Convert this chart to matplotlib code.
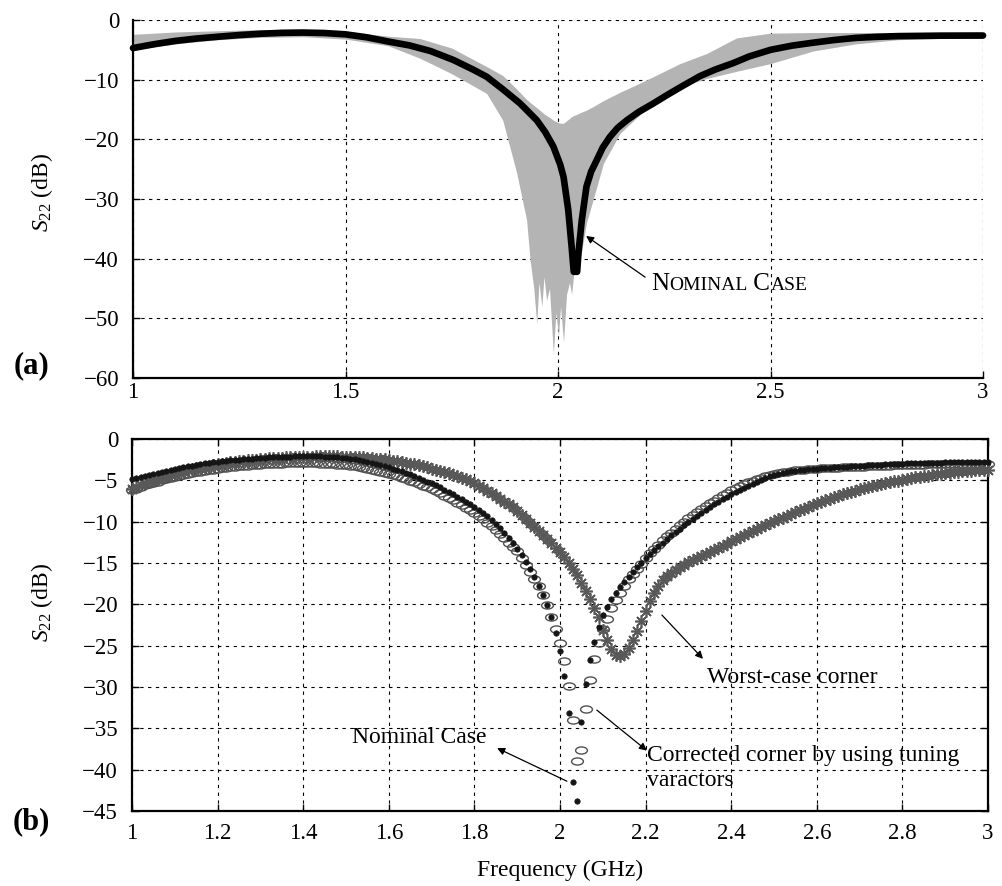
import numpy as np
import matplotlib
matplotlib.use("Agg")
import matplotlib.pyplot as plt
from matplotlib.path import Path
from matplotlib.transforms import Affine2D
from matplotlib.offsetbox import TextArea, HPacker, AnnotationBbox

plt.rcParams["font.family"] = "serif"
plt.rcParams["font.serif"] = ["Liberation Serif", "DejaVu Serif"]
plt.rcParams["mathtext.fontset"] = "custom"
plt.rcParams["mathtext.rm"] = "Liberation Serif"
plt.rcParams["mathtext.it"] = "Liberation Serif:italic"
plt.rcParams["axes.unicode_minus"] = True

# ---------------- (a) Monte Carlo spread + nominal ----------------
f_band = [1.00, 1.10, 1.20, 1.30, 1.40, 1.50, 1.60, 1.675, 1.75, 1.832, 1.87, 1.903,
          1.926, 1.934, 1.943, 1.950, 1.955, 1.962, 1.967, 1.973, 1.980, 1.989, 1.995,
          2.001, 2.006, 2.013, 2.020, 2.027, 2.032, 2.037, 2.045, 2.050, 2.067, 2.083,
          2.107, 2.146, 2.186, 2.224, 2.287, 2.350, 2.420, 2.500, 2.600, 2.700, 2.800,
          2.900, 3.000]
band_upper = [-2.4, -2.0, -1.8, -1.6, -1.6, -1.9, -2.7, -3.1, -4.7, -7.8, -9.3, -11.6,
              -13.3, -13.8, -14.3, -14.7, -15.0, -15.4, -15.7, -16.0, -16.3, -16.8, -17.0,
              -17.2, -17.3, -17.3, -16.9, -16.5, -16.2, -16.0, -15.8, -15.6, -15.1, -14.5,
              -13.5, -12.1, -10.8, -9.5, -7.3, -5.6, -3.0, -2.2, -2.1, -2.1, -2.1,
              -2.1, -2.3]
band_lower = [-5.0, -4.0, -3.3, -2.9, -2.8, -3.2, -4.3, -6.4, -9.0, -12.3, -16.8, -25.7,
              -33.5, -40.0, -45.0, -51.0, -44.0, -48.0, -43.0, -47.0, -45.0, -56.0, -49.0,
              -53.0, -48.0, -54.0, -46.0, -44.0, -46.0, -42.5, -42.3, -41.0, -34.0, -30.0,
              -24.0, -19.0, -16.3, -14.0, -11.2, -9.8, -8.6, -7.3, -5.2, -4.0, -3.3,
              -3.1, -3.1]

f_nom_a = [1.0, 1.05, 1.1, 1.15, 1.2, 1.25, 1.3, 1.35, 1.4, 1.45, 1.5, 1.55, 1.6, 1.65,
           1.7, 1.754, 1.8, 1.832, 1.87, 1.911, 1.95, 1.97, 1.989, 2.005, 2.013, 2.024,
           2.032, 2.037, 2.045, 2.048, 2.056, 2.067, 2.078, 2.091, 2.105, 2.122, 2.14,
           2.162, 2.19, 2.224, 2.256, 2.287, 2.334, 2.37, 2.413, 2.45, 2.5, 2.55, 2.6,
           2.65, 2.7, 2.75, 2.8, 2.9, 3.0]
s_nom_a = [-4.7, -4.05, -3.5, -3.1, -2.8, -2.52, -2.3, -2.15, -2.1, -2.18, -2.4, -2.9,
           -3.6, -4.25, -5.2, -6.7, -8.3, -9.5, -11.6, -14.0, -16.8, -18.8, -21.2, -24.2,
           -26.3, -31.8, -38.0, -42.2, -42.2, -39.1, -33.5, -27.9, -25.4, -23.5, -21.4,
           -19.6, -18.1, -16.8, -15.4, -14.0, -12.6, -11.3, -9.4, -8.3, -7.2, -6.1, -5.0,
           -4.3, -3.8, -3.35, -3.0, -2.82, -2.7, -2.62, -2.6]

# ---------------- (b) sampled every 10 MHz ----------------
f_b = np.round(np.linspace(1.0, 3.0, 201), 2)

s_nominal = [
    -4.90, -4.75, -4.60, -4.46, -4.33, -4.20, -4.08, -3.96, -3.84, -3.72,
    -3.60, -3.50, -3.40, -3.31, -3.22, -3.13, -3.05, -2.97, -2.89, -2.82,
    -2.75, -2.70, -2.65, -2.60, -2.55, -2.50, -2.46, -2.42, -2.38, -2.34,
    -2.30, -2.27, -2.24, -2.21, -2.19, -2.17, -2.15, -2.13, -2.12, -2.11,
    -2.10, -2.10, -2.10, -2.11, -2.12, -2.14, -2.16, -2.19, -2.22, -2.26,
    -2.30, -2.37, -2.45, -2.54, -2.64, -2.75, -2.87, -3.00, -3.14, -3.29,
    -3.45, -3.60, -3.76, -3.93, -4.11, -4.30, -4.50, -4.71, -4.93, -5.15,
    -5.38, -5.62, -5.87, -6.13, -6.40, -6.68, -6.97, -7.27, -7.58, -7.89,
    -8.20, -8.55, -8.95, -9.35, -9.80, -10.30, -10.80, -11.35, -11.95, -12.60,
    -13.30, -14.10, -14.90, -15.70, -16.70, -17.80, -18.90, -20.10, -21.60, -23.50,
    -25.70, -28.70, -33.10, -41.50, -43.80, -34.20, -29.70, -26.70, -24.60, -22.70,
    -21.30, -20.30, -19.40, -18.60, -17.90, -17.25, -16.65, -16.05, -15.50, -14.95,
    -14.45, -13.95, -13.47, -13.00, -12.55, -12.10, -11.67, -11.25, -10.84, -10.44,
    -10.05, -9.67, -9.30, -8.94, -8.59, -8.25, -7.92, -7.60, -7.29, -6.99,
    -6.70, -6.42, -6.15, -5.89, -5.64, -5.40, -5.17, -4.95, -4.74, -4.54,
    -4.38, -4.25, -4.13, -4.02, -3.93, -3.85, -3.78, -3.72, -3.67, -3.62,
    -3.58, -3.54, -3.50, -3.47, -3.44, -3.41, -3.38, -3.35, -3.33, -3.31,
    -3.28, -3.24, -3.21, -3.18, -3.15, -3.12, -3.09, -3.06, -3.03, -3.00,
    -2.98, -2.96, -2.94, -2.92, -2.91, -2.90, -2.89, -2.88, -2.87, -2.86,
    -2.85, -2.84, -2.83, -2.83, -2.82, -2.82, -2.81, -2.81, -2.80, -2.80,
    -2.80]

s_corrected = [
    -6.20, -6.00, -5.81, -5.63, -5.46, -5.30, -5.15, -5.00, -4.86, -4.73,
    -4.60, -4.48, -4.37, -4.26, -4.16, -4.06, -3.97, -3.88, -3.80, -3.72,
    -3.64, -3.57, -3.50, -3.44, -3.38, -3.33, -3.28, -3.23, -3.19, -3.15,
    -3.11, -3.08, -3.05, -3.03, -3.01, -2.99, -2.97, -2.96, -2.95, -2.95,
    -2.95, -2.95, -2.96, -2.97, -2.99, -3.01, -3.04, -3.07, -3.11, -3.15,
    -3.20, -3.26, -3.33, -3.41, -3.50, -3.60, -3.71, -3.83, -3.96, -4.10,
    -4.25, -4.39, -4.54, -4.70, -4.87, -5.05, -5.24, -5.44, -5.65, -5.87,
    -6.10, -6.34, -6.59, -6.85, -7.12, -7.40, -7.69, -7.99, -8.30, -8.62,
    -8.95, -9.32, -9.72, -10.14, -10.58, -11.04, -11.52, -12.02, -12.54, -13.07,
    -13.60, -14.35, -15.20, -16.10, -16.90, -17.80, -18.90, -20.10, -21.50, -23.00,
    -24.70, -26.90, -29.90, -34.00, -39.00, -37.60, -32.70, -29.10, -26.60, -24.70,
    -23.00, -21.80, -20.50, -19.50, -18.60, -17.80, -17.00, -16.30, -15.70, -15.10,
    -14.40, -13.85, -13.30, -12.78, -12.28, -11.78, -11.32, -10.88, -10.45, -10.02,
    -9.62, -9.25, -8.88, -8.52, -8.16, -7.80, -7.45, -7.12, -6.80, -6.50,
    -6.22, -5.95, -5.70, -5.46, -5.24, -5.03, -4.84, -4.67, -4.52, -4.38,
    -4.26, -4.15, -4.05, -3.96, -3.88, -3.81, -3.75, -3.70, -3.65, -3.61,
    -3.58, -3.55, -3.52, -3.50, -3.48, -3.46, -3.44, -3.42, -3.40, -3.39,
    -3.37, -3.35, -3.33, -3.31, -3.29, -3.27, -3.25, -3.23, -3.21, -3.19,
    -3.17, -3.15, -3.13, -3.12, -3.11, -3.10, -3.09, -3.08, -3.07, -3.06,
    -3.05, -3.04, -3.03, -3.03, -3.02, -3.02, -3.01, -3.01, -3.00, -3.00,
    -3.00]

s_worst = [
    -6.00, -5.78, -5.57, -5.37, -5.18, -5.00, -4.82, -4.65, -4.49, -4.34,
    -4.20, -4.06, -3.93, -3.80, -3.68, -3.57, -3.46, -3.36, -3.26, -3.17,
    -3.08, -3.00, -2.92, -2.85, -2.78, -2.71, -2.65, -2.59, -2.54, -2.49,
    -2.44, -2.40, -2.36, -2.32, -2.29, -2.26, -2.23, -2.21, -2.19, -2.17,
    -2.15, -2.14, -2.13, -2.12, -2.11, -2.11, -2.11, -2.11, -2.12, -2.13,
    -2.14, -2.16, -2.18, -2.21, -2.24, -2.28, -2.32, -2.37, -2.42, -2.48,
    -2.55, -2.62, -2.70, -2.79, -2.88, -2.98, -3.09, -3.20, -3.32, -3.45,
    -3.58, -3.72, -3.87, -4.02, -4.18, -4.35, -4.53, -4.71, -4.90, -5.10,
    -5.35, -5.65, -5.96, -6.27, -6.59, -6.92, -7.25, -7.59, -7.93, -8.28,
    -8.75, -9.20, -9.66, -10.13, -10.61, -11.10, -11.60, -12.11, -12.63, -13.16,
    -13.70, -14.30, -14.95, -15.70, -16.50, -17.40, -18.40, -19.40, -20.50, -21.60,
    -23.10, -24.30, -25.40, -26.10, -26.30, -26.00, -25.30, -24.30, -23.20, -22.00,
    -20.80, -19.60, -18.60, -17.75, -17.10, -16.60, -16.20, -15.80, -15.50, -15.20,
    -14.90, -14.65, -14.40, -14.15, -13.90, -13.65, -13.40, -13.15, -12.90, -12.65,
    -12.40, -12.15, -11.90, -11.65, -11.40, -11.15, -10.90, -10.65, -10.40, -10.15,
    -9.95, -9.73, -9.51, -9.29, -9.07, -8.85, -8.64, -8.43, -8.22, -8.01,
    -7.80, -7.61, -7.42, -7.24, -7.06, -6.89, -6.72, -6.56, -6.40, -6.25,
    -6.10, -5.96, -5.83, -5.70, -5.58, -5.46, -5.35, -5.24, -5.13, -5.03,
    -4.93, -4.84, -4.75, -4.66, -4.58, -4.50, -4.43, -4.36, -4.29, -4.22,
    -4.16, -4.10, -4.04, -3.98, -3.93, -3.88, -3.83, -3.79, -3.75, -3.72,
    -3.70]

xticks_a = [1, 1.5, 2, 2.5, 3]
xticklabels_a = ["1", "1.5", "2", "2.5", "3"]
yticks_a = [0, -10, -20, -30, -40, -50, -60]
xticks_b = [1, 1.2, 1.4, 1.6, 1.8, 2, 2.2, 2.4, 2.6, 2.8, 3]
xticklabels_b = ["1", "1.2", "1.4", "1.6", "1.8", "2", "2.2", "2.4", "2.6", "2.8", "3"]
yticks_b = [0, -5, -10, -15, -20, -25, -30, -35, -40, -45]

grid_kw = dict(color="black", linewidth=0.8, linestyle=(0, (3, 4)))

fig = plt.figure(figsize=(10.03, 8.86), dpi=100)
fig.patch.set_facecolor("white")

# ---------- panel (a) ----------
ax1 = fig.add_axes([0.1326, 0.5734, 0.8475, 0.404])
ax1.set_axisbelow(True)
ax1.fill_between(f_band, band_lower, band_upper, color="#b4b4b4", lw=0, zorder=2)
ax1.plot(f_nom_a, s_nom_a, color="black", lw=4.8, solid_capstyle="round",
         clip_on=False, zorder=3)
ax1.set_xlim(1, 3)
ax1.set_ylim(-60, 0)
ax1.set_xticks(xticks_a)
ax1.set_xticklabels(xticklabels_a)
ax1.set_yticks(yticks_a)
ax1.grid(True, **grid_kw)
for s in ["top", "right"]:
    ax1.spines[s].set_visible(False)
for s in ["left", "bottom"]:
    ax1.spines[s].set_linewidth(1.6)
ax1.tick_params(direction="in", length=5, width=1, labelsize=16.5)
ax1.tick_params(axis="x", pad=3)
ax1.tick_params(axis="y", pad=10)
ax1.set_ylabel("$S_{22}$ (dB)", fontsize=17)
ax1.yaxis.set_label_coords(-0.092, 0.517)

ax1.annotate("", xy=(2.066, -36.2), xytext=(2.205, -43.1),
             arrowprops=dict(arrowstyle="-|>", color="black", lw=0.9,
                             mutation_scale=11, shrinkA=0, shrinkB=0))
big = dict(fontsize=18, color="black")
small = dict(fontsize=14, color="black")
sc = HPacker(children=[TextArea("N", textprops=big), TextArea("OMINAL", textprops=small),
                       TextArea(" C", textprops=big), TextArea("ASE", textprops=small)],
             align="baseline", pad=0, sep=0)
ax1.add_artist(AnnotationBbox(sc, (2.219, -44.2), xycoords="data",
                              box_alignment=(0, 0.5), frameon=False, pad=0))

# ---------- panel (b) ----------
ax2 = fig.add_axes([0.1316, 0.0847, 0.8535, 0.4199])
ax2.set_axisbelow(True)
ellipse = Affine2D().scale(1.0, 0.6).transform_path(Path.unit_circle())
ax2.plot(f_b, s_corrected, linestyle="none", marker=ellipse, markersize=8.5,
         markerfacecolor="none", markeredgecolor="#505050", markeredgewidth=1.0,
         clip_on=False, zorder=3)
ax2.plot(f_b, s_worst, linestyle="none", marker=(8, 2, 0), markersize=9,
         markeredgecolor="#585858", markeredgewidth=1.2, clip_on=False, zorder=4)
ax2.plot(f_b, s_nominal, linestyle="none", marker="o", markersize=3.9,
         markerfacecolor="#151515", markeredgecolor="#151515", markeredgewidth=0.5,
         clip_on=False, zorder=5)
ax2.set_xlim(1, 3)
ax2.set_ylim(-45, 0)
ax2.set_xticks(xticks_b)
ax2.set_xticklabels(xticklabels_b)
ax2.set_yticks(yticks_b)
ax2.grid(True, **grid_kw)
for s in ax2.spines.values():
    s.set_linewidth(1.6)
ax2.tick_params(direction="in", length=5, width=1, labelsize=16.5,
                top=True, right=True)
ax2.tick_params(axis="x", pad=9)
ax2.tick_params(axis="y", pad=10)
ax2.set_ylabel("$S_{22}$ (dB)", fontsize=17)
ax2.yaxis.set_label_coords(-0.09, 0.56)
ax2.set_xlabel("Frequency (GHz)", fontsize=17, labelpad=11)

arrow_kw = dict(arrowstyle="-|>", color="black", lw=0.9, mutation_scale=11,
                shrinkA=0, shrinkB=0)
ax2.annotate("", xy=(2.334, -26.6), xytext=(2.238, -21.3), arrowprops=arrow_kw)
ax2.text(2.343, -28.9, "Worst-case corner", fontsize=17, ha="left", va="center")
ax2.annotate("", xy=(2.203, -37.7), xytext=(2.086, -32.8), arrowprops=arrow_kw)
ax2.text(2.203, -39.8, "Corrected corner by using tuning\nvaractors", fontsize=17,
         ha="left", va="center", linespacing=1.3)
ax2.annotate("", xy=(1.853, -37.4), xytext=(2.016, -41.4), arrowprops=arrow_kw)
ax2.text(1.829, -36.1, "Nominal Case", fontsize=17, ha="right", va="center")

fig.text(0.031, 0.587, "(a)", fontsize=22, fontweight="bold", ha="center", va="center")
fig.text(0.031, 0.072, "(b)", fontsize=22, fontweight="bold", ha="center", va="center")

fig.savefig("out.png", dpi=100, facecolor="white")
